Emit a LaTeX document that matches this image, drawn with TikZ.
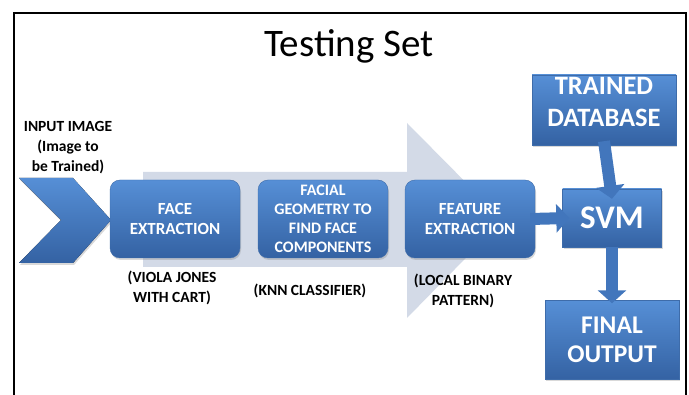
\documentclass[tikz,border=0pt]{standalone}
\usepackage{fontspec}
\setmainfont{Carlito}
\usetikzlibrary{arrows.meta,shadows}
\definecolor{BoxTop}{RGB}{86,143,214}
\definecolor{BoxBot}{RGB}{52,98,163}
\definecolor{BoxEdge}{RGB}{62,108,170}
\definecolor{ArrowBlue}{RGB}{66,118,188}
\definecolor{Backdrop}{RGB}{211,218,231}
\tikzset{
	procbox/.style={rounded corners=10pt,top color=BoxTop,bottom color=BoxBot,draw=BoxEdge,
		text=white,align=center,inner sep=0pt,font=\fontsize{17}{20}\selectfont\bfseries,
		drop shadow={opacity=.3,shadow xshift=1pt,shadow yshift=-2pt}},
	sqbox/.style={procbox,rounded corners=0pt},
	note/.style={align=center,font=\fontsize{15.5}{20}\selectfont\bfseries},
	blockarrow/.style={draw=ArrowBlue,line width=12pt,-{Triangle[length=13pt,width=28pt]}}
}
\begin{document}
\begin{tikzpicture}[x=1pt,y=-1pt]
			\useasboundingbox (0,0) rectangle (689,395);
			% frame, open at the bottom
			\draw[line width=2.5pt] (14,395) -- (14,13) -- (686,13) -- (686,395);
			\node[font=\fontsize{39}{44}\selectfont,anchor=base] (title) at (349,57) {Testing Set};
			% grey backdrop arrow
			\fill[Backdrop] (143,172) -- (407,172) -- (407,123) -- (503,220) -- (407,318)
				-- (407,267) -- (143,267) -- cycle;
			% input chevron
			\fill[top color=BoxTop,bottom color=BoxBot,drop shadow={opacity=.3,shadow xshift=1pt,shadow yshift=-2pt}]
				(19,178) -- (73,178) -- (111,220) -- (73,263) -- (19,263) -- (61,220) -- cycle;
			\node[note] (input) at (68,148) {INPUT IMAGE\\(Image to\\be Trained)};
			% process boxes
			\node[procbox,minimum width=130pt,minimum height=78pt] (face) at (175,219) {FACE\\EXTRACTION};
			\node[procbox,minimum width=130pt,minimum height=78pt,font=\fontsize{16}{19}\selectfont\bfseries] (geom) at (323,219)
				{FACIAL\\GEOMETRY TO\\FIND FACE\\COMPONENTS};
			\node[procbox,minimum width=130pt,minimum height=78pt] (feat) at (470,219) {FEATURE\\EXTRACTION};
			\node[sqbox,minimum width=99pt,minimum height=58pt,font=\fontsize{33}{36}\selectfont\bfseries] (svm) at (612,218) {SVM};
			\node[sqbox,minimum width=144pt,minimum height=70pt,text depth=16pt,font=\fontsize{26.5}{32}\selectfont\bfseries]
				(trained) at (604,110) {TRAINED\\DATABASE};
			\node[sqbox,minimum width=134pt,minimum height=79pt,font=\fontsize{25.5}{29}\selectfont\bfseries]
				(final) at (612,340) {FINAL\\OUTPUT};
			% method labels
			\node[note] (viola) at (172,288) {(VIOLA JONES\\WITH CART)};
			\node[note] (knn) at (310,291) {(KNN CLASSIFIER)};
			\node[note] (lbp) at (463,291) {(LOCAL BINARY\\PATTERN)};
			% block arrows
			\draw[blockarrow] ([xshift=-5pt]feat.east) -- ([xshift=7pt]svm.west);
			\draw[blockarrow] ([yshift=4pt]trained.south) -- ([yshift=-10pt]svm.north);
			\draw[blockarrow] (svm.south) -- ([yshift=-3pt]final.north);
		\end{tikzpicture}
\end{document}
